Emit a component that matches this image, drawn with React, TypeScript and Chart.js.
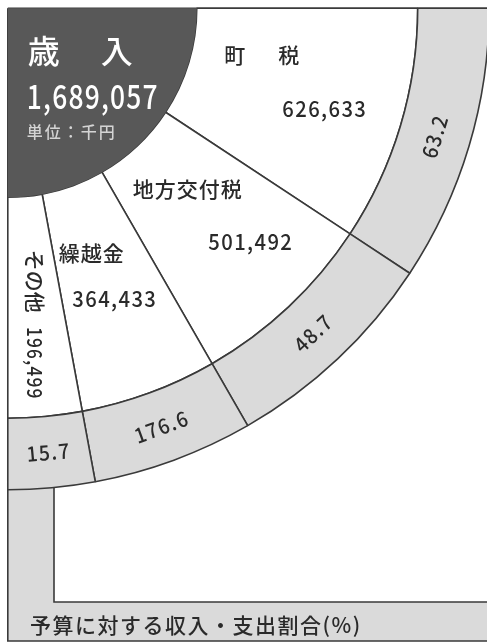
import React, { useEffect, useRef } from "react";
import { Chart, registerables } from "chart.js";

Chart.register(...registerables);

// ---- data ----
const categories = ["町税", "地方交付税", "繰越金", "その他"];
const categoryLabels = ["町　税", "地方交付税", "繰越金", "その他"];
const amounts = [626633, 501492, 364433, 196499];
const ratioToBudget = [63.2, 48.7, 176.6, 15.7];
const totalAmount = 1689057;
const titleChars = ["歳", "入"];
const unitLabel = "単位：千円";
const footerLabel = "予算に対する収入・支出割合(%)";

// ---- layout / style ----
const CANVAS_W = 490;
const CANVAS_H = 644;
const VIEW_W = 487;
const FONT = '"Noto Sans CJK JP", "Noto Sans", sans-serif';
const GRAY = "#dadada";
const DARK = "#585858";
const LINE = "#3a3a3a";
const TEXT = "#2a2a2a";
const BOX_LEFT = 54;
const BOX_BOTTOM = 602;
const FRAME_BOTTOM = 641;
// label offsets relative to the chart centre
const NAME_POS = [[257, 47], [180, 181], [84, 245], [27, 273]];
const VALUE_POS = [[317, 100], [243, 233], [107, 290], [27, 355]];
const NAME_SPACING = [6, 1, 1, 0];
const VALUE_SIZE = [22, 22, 22, 21];
const VALUE_SX = [0.92, 0.92, 0.92, 0.82];
const VERTICAL = [false, false, false, true];

const fmt = (n: number) => n.toLocaleString("en-US");

function drawText(
  ctx: CanvasRenderingContext2D,
  text: string,
  x: number,
  y: number,
  opts: {
    rot?: number;
    size: number;
    color: string;
    sx?: number;
    spacing?: number;
    align?: CanvasTextAlign;
    weight?: number;
  }
) {
  ctx.save();
  ctx.translate(x, y);
  if (opts.rot) ctx.rotate(opts.rot);
  ctx.scale(opts.sx ?? 1, 1);
  ctx.font = `${opts.weight ?? 500} ${opts.size}px ${FONT}`;
  (ctx as any).letterSpacing = `${opts.spacing ?? 0}px`;
  ctx.fillStyle = opts.color;
  ctx.textAlign = opts.align ?? "center";
  ctx.textBaseline = "middle";
  ctx.fillText(text, 0, 0);
  ctx.restore();
}

const framePlugin = {
  id: "frame",
  beforeDraw(chart: any) {
    const ctx: CanvasRenderingContext2D = chart.ctx;
    const arc = chart.getDatasetMeta(0).data[0];
    const cx = arc.x;
    const cy = arc.y;
    ctx.save();
    ctx.fillStyle = "#ffffff";
    ctx.fillRect(0, 0, CANVAS_W, CANVAS_H);
    ctx.fillStyle = GRAY;
    ctx.fillRect(cx, cy, CANVAS_W - cx, FRAME_BOTTOM - cy);
    ctx.fillStyle = "#ffffff";
    ctx.fillRect(BOX_LEFT, cy, CANVAS_W - BOX_LEFT, BOX_BOTTOM - cy);
    ctx.strokeStyle = LINE;
    ctx.lineWidth = 1.6;
    ctx.beginPath();
    ctx.moveTo(BOX_LEFT, cy);
    ctx.lineTo(BOX_LEFT, BOX_BOTTOM);
    ctx.lineTo(CANVAS_W, BOX_BOTTOM);
    ctx.moveTo(cx, cy);
    ctx.lineTo(cx, FRAME_BOTTOM);
    ctx.lineTo(CANVAS_W, FRAME_BOTTOM);
    ctx.moveTo(cx, cy);
    ctx.lineTo(CANVAS_W, cy);
    ctx.stroke();
    ctx.restore();
  },
  afterDatasetsDraw(chart: any) {
    const ctx: CanvasRenderingContext2D = chart.ctx;
    const outer = chart.getDatasetMeta(0).data;
    const cx = outer[0].x;
    const cy = outer[0].y;

    // ratio labels on the grey ring
    outer.forEach((a: any, i: number) => {
      const mid = (a.startAngle + a.endAngle) / 2;
      const r = (a.innerRadius + a.outerRadius) / 2;
      drawText(ctx, ratioToBudget[i].toFixed(1), cx + r * Math.cos(mid), cy + r * Math.sin(mid), {
        rot: mid - Math.PI / 2,
        size: 21,
        color: TEXT,
        sx: 0.92,
        spacing: 1.5,
      });
    });

    // category names & amounts
    categories.forEach((_, i) => {
      const rot = VERTICAL[i] ? Math.PI / 2 : 0;
      drawText(ctx, categoryLabels[i], cx + NAME_POS[i][0], cy + NAME_POS[i][1], {
        rot,
        size: 21,
        color: TEXT,
        spacing: NAME_SPACING[i],
      });
      drawText(ctx, fmt(amounts[i]), cx + VALUE_POS[i][0], cy + VALUE_POS[i][1], {
        rot,
        size: VALUE_SIZE[i],
        color: TEXT,
        sx: VALUE_SX[i],
        spacing: 1.5,
      });
    });

    // centre title
    drawText(ctx, titleChars[0], cx + 36, cy + 43, { size: 32, color: "#ffffff", weight: 500 });
    drawText(ctx, titleChars[1], cx + 109, cy + 43, { size: 32, color: "#ffffff", weight: 500 });
    drawText(ctx, fmt(totalAmount), cx + 85, cy + 88, { size: 33, color: "#ffffff", sx: 0.8, spacing: 1.5 });
    drawText(ctx, unitLabel, cx + 64, cy + 124, { size: 16, color: "#d4d4d4", spacing: 2 });

    // footer
    drawText(ctx, footerLabel, 30, 625, { size: 21, color: TEXT, align: "left", spacing: 1.5 });
  },
};

export default function App() {
  const ref = useRef<HTMLCanvasElement | null>(null);

  useEffect(() => {
    if (!ref.current) return;
    const chart = new Chart(ref.current, {
      type: "doughnut",
      data: {
        labels: categories,
        datasets: [
          {
            data: amounts,
            backgroundColor: GRAY,
            borderColor: LINE,
            borderWidth: 1.6,
            weight: 71.5,
          } as any,
          {
            data: amounts,
            backgroundColor: "#ffffff",
            borderColor: LINE,
            borderWidth: 1.6,
            weight: 221,
          } as any,
          {
            data: [totalAmount],
            backgroundColor: DARK,
            borderWidth: 0,
            weight: 189,
            order: -1,
          } as any,
        ],
      },
      options: {
        responsive: false,
        animation: false,
        rotation: 90,
        circumference: 90,
        cutout: 0,
        layout: { padding: { left: 7, top: 7, right: 0, bottom: CANVAS_H - 7 - 484 } },
        plugins: {
          legend: { display: false },
          tooltip: { enabled: false },
        },
      } as any,
      plugins: [framePlugin],
    });
    return () => chart.destroy();
  }, []);

  return (
    <div
      style={{
        position: "fixed",
        left: 0,
        top: 0,
        width: VIEW_W,
        height: CANVAS_H,
        overflow: "hidden",
        background: "#fff",
      }}
    >
      <canvas
        ref={ref}
        width={CANVAS_W}
        height={CANVAS_H}
        style={{ width: CANVAS_W, height: CANVAS_H, display: "block" }}
      />
    </div>
  );
}
